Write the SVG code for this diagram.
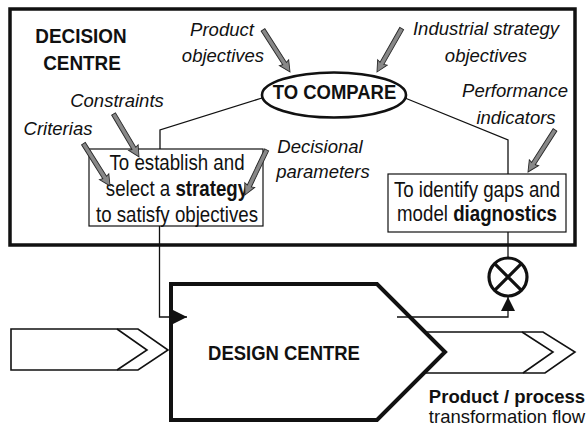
<svg xmlns="http://www.w3.org/2000/svg" width="586" height="432" viewBox="0 0 586 432">
  <style>
    text { font-family: "Liberation Sans", Arial, sans-serif; fill: #111; }
    .lab { font-size: 18.5px; font-style: italic; text-anchor: middle; }
    .hdr { font-size: 21px; font-weight: bold; text-anchor: middle; }
    .txt { font-size: 22px; text-anchor: middle; }
    .out { font-size: 18.5px; text-anchor: middle; }
    .b { font-weight: bold; }
    .thin { fill: none; stroke: #111; stroke-width: 1.3; }
    .box { fill: #fff; stroke: #111; stroke-width: 1.2; }
    .flow { fill: #fff; stroke: #111; stroke-width: 1.6; stroke-linejoin: miter; }
    .inp { fill: #888; stroke: #2a2a2a; stroke-width: 0.9; stroke-linejoin: miter; }
  </style>
  <defs>
    <!-- grey input arrow, tip at origin, pointing along +x -->
    <path id="inArrow" class="inp" d="M0,0 L-11,-5.5 L-10,-2.2 L-50,-2.2 L-50,2.2 L-10,2.2 L-11,5.5 Z"/>
    <marker id="head" markerUnits="userSpaceOnUse" markerWidth="14" markerHeight="14" viewBox="0 0 12 12" refX="12" refY="6" orient="auto">
      <path d="M0,0 L12,6 L0,12 Z" fill="#111"/>
    </marker>
  </defs>

  <rect width="586" height="432" fill="#fff"/>

  <!-- decision centre frame -->
  <g id="decision-centre">
    <rect x="10" y="9" width="565" height="236" fill="none" stroke="#111" stroke-width="3.5"/>
    <text class="hdr" transform="translate(81,43) scale(0.9,1)">DECISION</text>
    <text class="hdr" transform="translate(82,70) scale(0.9,1)">CENTRE</text>
  </g>

  <!-- product flow in and out -->
  <g id="flow-in">
    <path class="flow" d="M11,329 L138,329 L168,350 L138,370 L11,370 Z"/>
    <path class="flow" d="M117,329 L147,350 L117,370" fill="none"/>
  </g>
  <g id="flow-out">
    <path class="flow" d="M425,332 L543,332 L575,352 L545,373 L424,373"/>
    <path class="flow" d="M522,332 L553,352 L523,373" fill="none"/>
    <text class="out b" x="507" y="403">Product / process</text>
    <text class="out" x="507" y="423">transformation flow</text>
  </g>

  <!-- design centre -->
  <g id="design-centre">
    <path d="M171,284 L377,284 L445,352 L377,420 L171,420 Z" fill="#fff" stroke="#111" stroke-width="4" stroke-linejoin="miter"/>
    <text class="hdr" transform="translate(284,360) scale(0.88,1)">DESIGN CENTRE</text>
  </g>

  <!-- connectors -->
  <g id="connectors">
    <polyline class="thin" points="262,98 160,130 160,149"/>
    <polyline class="thin" points="405,98 508,140 508,174"/>
    <line class="thin" x1="508" y1="232" x2="508" y2="258"/>
    <polyline class="thin" points="159.5,226 159.5,317 187,317" marker-end="url(#head)"/>
    <polyline class="thin" points="397,317 508,317 508,297" marker-end="url(#head)"/>
  </g>

  <!-- comparison -->
  <g id="to-compare">
    <ellipse cx="334" cy="95" rx="72" ry="22.5" fill="#fff" stroke="#111" stroke-width="2.6"/>
    <text class="hdr" transform="translate(334.5,98.5) scale(0.88,1)">TO COMPARE</text>
  </g>

  <!-- strategy selection -->
  <g id="strategy">
    <rect class="box" x="89" y="149" width="174" height="77"/>
    <text class="txt" transform="translate(177,170) scale(0.85,1)">To establish and</text>
    <text class="txt" transform="translate(177,196) scale(0.85,1)">select a <tspan class="b">strategy</tspan></text>
    <text class="txt" transform="translate(177,222) scale(0.85,1)">to satisfy objectives</text>
  </g>

  <!-- diagnostics -->
  <g id="diagnostics">
    <rect class="box" x="388" y="174" width="178" height="58"/>
    <text class="txt" transform="translate(477,197) scale(0.85,1)">To identify gaps and</text>
    <text class="txt" transform="translate(477,221) scale(0.85,1)">model <tspan class="b">diagnostics</tspan></text>
  </g>

  <!-- comparator -->
  <g id="comparator">
    <circle cx="508" cy="277" r="19" fill="#fff" stroke="#111" stroke-width="3.2"/>
    <path d="M494.6,263.6 L521.4,290.4 M521.4,263.6 L494.6,290.4" stroke="#111" stroke-width="3.2"/>
  </g>

  <!-- external inputs -->
  <g id="inputs">
    <text class="lab" x="222" y="36">Product</text>
    <text class="lab" x="223" y="62">objectives</text>
    <use href="#inArrow" transform="translate(290,72) rotate(57.3)"/>

    <text class="lab" x="486" y="35">Industrial strategy</text>
    <text class="lab" x="486" y="62">objectives</text>
    <use href="#inArrow" transform="translate(377,72) rotate(119.6)"/>

    <text class="lab" x="117" y="107">Constraints</text>
    <use href="#inArrow" transform="translate(139,157) rotate(59.4)"/>

    <text class="lab" x="58" y="135">Criterias</text>
    <use href="#inArrow" transform="translate(110,186) rotate(57.9)"/>

    <text class="lab" x="320" y="153">Decisional</text>
    <text class="lab" x="323" y="178">parameters</text>
    <use href="#inArrow" transform="translate(245,195) rotate(115.6)"/>

    <text class="lab" x="515" y="97">Performance</text>
    <text class="lab" x="516" y="124">indicators</text>
    <use href="#inArrow" transform="translate(528,172) rotate(122.7)"/>
  </g>
</svg>
